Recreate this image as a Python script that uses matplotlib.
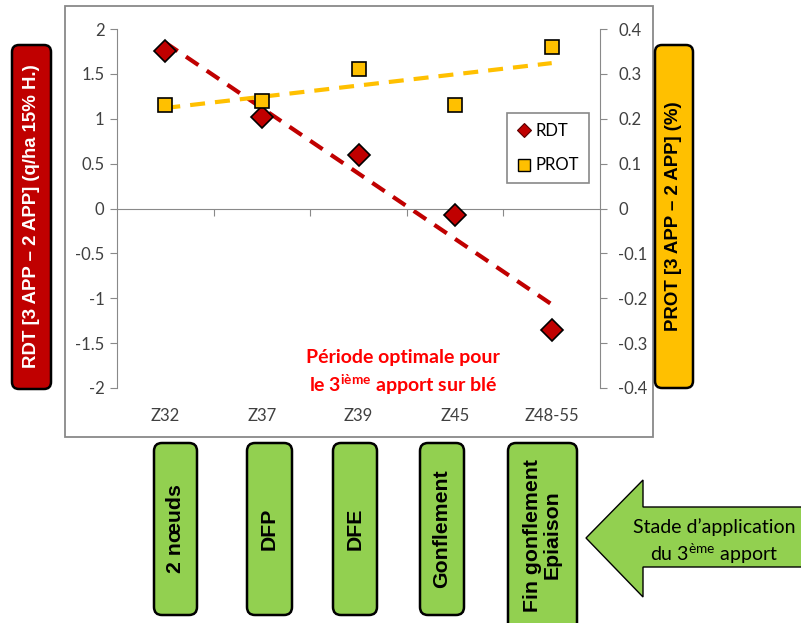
import numpy as np
import matplotlib
matplotlib.use("Agg")
import matplotlib.pyplot as plt
from matplotlib.patches import FancyBboxPatch, Polygon, Rectangle
from matplotlib.lines import Line2D

plt.rcParams['font.family'] = ['Lato', 'DejaVu Sans']
plt.rcParams['mathtext.fontset'] = 'custom'
plt.rcParams['mathtext.rm'] = 'Lato'
plt.rcParams['mathtext.bf'] = 'Lato:bold'
plt.rcParams['axes.unicode_minus'] = False

# data
stades = ['Z32', 'Z37', 'Z39', 'Z45', 'Z48-55']
rdt = [1.75, 1.02, 0.60, -0.07, -1.35]
prot = [0.23, 0.24, 0.31, 0.23, 0.36]
noms_stades = ['2 nœuds', 'DFP', 'DFE', 'Gonflement', 'Fin gonflement\nEpiaison']
rdt_ticks = [2, 1.5, 1, 0.5, 0, -0.5, -1, -1.5, -2]
prot_ticks = [0.4, 0.3, 0.2, 0.1, 0, -0.1, -0.2, -0.3, -0.4]

RED = '#C00000'
YEL = '#FFC000'
GREEN = '#92D050'
GRID = '#898989'
TXT = '#404040'
ARIAL = ['Liberation Sans', 'DejaVu Sans']

W, H = 801, 623
fig = plt.figure(figsize=(W / 100, H / 100), dpi=100)

# background layer in pixel coords for boxes / arrow / frame
bg = fig.add_axes([0, 0, 1, 1])
bg.set_xlim(0, W)
bg.set_ylim(H, 0)
bg.axis('off')
bg.add_patch(Rectangle((65, 6), 588, 431, fill=False, ec=GRID, lw=1.3))

# left / right axis title boxes
bg.add_patch(FancyBboxPatch((12, 45), 39, 344, boxstyle='round,pad=0,rounding_size=7',
                            fc=RED, ec='black', lw=1.8))
bg.text(31.5, 216, 'RDT [3 APP – 2 APP] (q/ha 15% H.)', rotation=90, color='white',
        fontsize=13.4, fontweight='bold', family=ARIAL, ha='center', va='center')
bg.add_patch(FancyBboxPatch((655, 45), 38, 343, boxstyle='round,pad=0,rounding_size=7',
                            fc=YEL, ec='black', lw=1.8))
bg.text(674, 216, 'PROT [3 APP – 2 APP] (%)', rotation=90, color='black',
        fontsize=13.4, fontweight='bold', family=ARIAL, ha='center', va='center')

# stage boxes
box_x = [(154, 197), (247, 292), (333, 377), (420, 464), (508, 577)]
for (x0, x1), nom in zip(box_x, noms_stades):
    y1 = 615 if '\n' not in nom else 640
    bg.add_patch(FancyBboxPatch((x0, 443), x1 - x0, y1 - 443,
                                boxstyle='round,pad=0,rounding_size=8',
                                fc=GREEN, ec='black', lw=1.8))
    yc = 529 if '\n' not in nom else 535
    bg.text((x0 + x1) / 2, yc, nom, rotation=90, fontsize=15.3, fontweight='bold',
            family=ARIAL, ha='center', va='center', multialignment='center',
            linespacing=1.0)

# arrow
arrow = Polygon([(586, 538), (643, 480), (643, 507), (810, 507), (810, 567),
                 (643, 567), (643, 597)], closed=True, fc=GREEN, ec='black', lw=1.0)
bg.add_patch(arrow)
bg.text(714, 527, 'Stade d’application', fontsize=14, ha='center', va='center')
bg.text(714, 554, r'du 3$^{\mathrm{ème}}$ apport', fontsize=14, ha='center', va='center')

# main chart
ax = fig.add_axes([117 / W, 1 - 388 / H, (600 - 117) / W, (388 - 29) / H])
ax.patch.set_visible(False)
x = np.arange(len(stades))
ax.set_xlim(-0.5, len(stades) - 0.5)
ax.set_ylim(-2, 2)
ax.set_yticks(rdt_ticks)
ax.set_yticklabels(['%g' % v for v in rdt_ticks])
ax.set_xticks(np.arange(0.5, len(stades) - 1, 1))
ax.set_xticklabels([])
for s in ['top', 'right']:
    ax.spines[s].set_visible(False)
ax.spines['bottom'].set_position(('data', 0))
ax.spines['left'].set_color(GRID)
ax.spines['bottom'].set_color(GRID)
ax.tick_params(axis='y', direction='out', length=5, color=GRID, labelcolor=TXT, labelsize=12, pad=4)
ax.tick_params(axis='x', direction='out', length=5, color=GRID)
for i, s in enumerate(stades):
    ax.text(i, -0.078, s, transform=ax.get_xaxis_transform(), ha='center', va='center',
            fontsize=12, color=TXT)

ax2 = ax.twinx()
ax2.set_ylim(-0.4, 0.4)
ax2.set_yticks(prot_ticks)
ax2.set_yticklabels(['%g' % v for v in prot_ticks])
for s in ['top', 'left', 'bottom']:
    ax2.spines[s].set_visible(False)
ax2.spines['right'].set_color(GRID)
ax2.tick_params(axis='y', direction='out', length=5, color=GRID, labelcolor=TXT, labelsize=12, pad=8)

# linear trendlines
xt = np.array([0, len(stades) - 1])
a, b = np.polyfit(x, rdt, 1)
ax.plot(xt, a * xt + b, color=RED, lw=3, ls=(0, (3.6, 2.4)), zorder=2)
c, d = np.polyfit(x, prot, 1)
ax2.plot(xt, c * xt + d, color=YEL, lw=3, ls=(0, (3.6, 2.4)), zorder=2)

ax.plot(x, rdt, ls='none', marker='D', ms=11, mfc=RED, mec='black', mew=1.2, zorder=3)
ax2.plot(x, prot, ls='none', marker='s', ms=10.5, mfc=YEL, mec='black', mew=1.2, zorder=3)

handles = [Line2D([], [], ls='none', marker='D', ms=7.5, mfc=RED, mec='#5a0000', mew=0.8),
           Line2D([], [], ls='none', marker='s', ms=9, mfc=YEL, mec='black', mew=1)]
leg = ax2.legend(handles, ['RDT', 'PROT'], loc='upper left',
                 bbox_to_anchor=(507 / W, 1 - 113 / H), bbox_transform=fig.transFigure,
                 fancybox=False, framealpha=1, edgecolor=GRID, fontsize=12,
                 labelspacing=1.1, handlelength=0.8, handletextpad=0.3, borderpad=0.6,
                 borderaxespad=0)
leg.get_frame().set_linewidth(1.2)

bg.text(403, 358, 'Période optimale pour', color='#FF0000', fontsize=14,
        fontweight='bold', ha='center', va='center')
bg.text(403, 385, r'le 3$^{\mathbf{ième}}$ apport sur blé', color='#FF0000', fontsize=14,
        fontweight='bold', ha='center', va='center')

fig.savefig('out.png', dpi=100)
